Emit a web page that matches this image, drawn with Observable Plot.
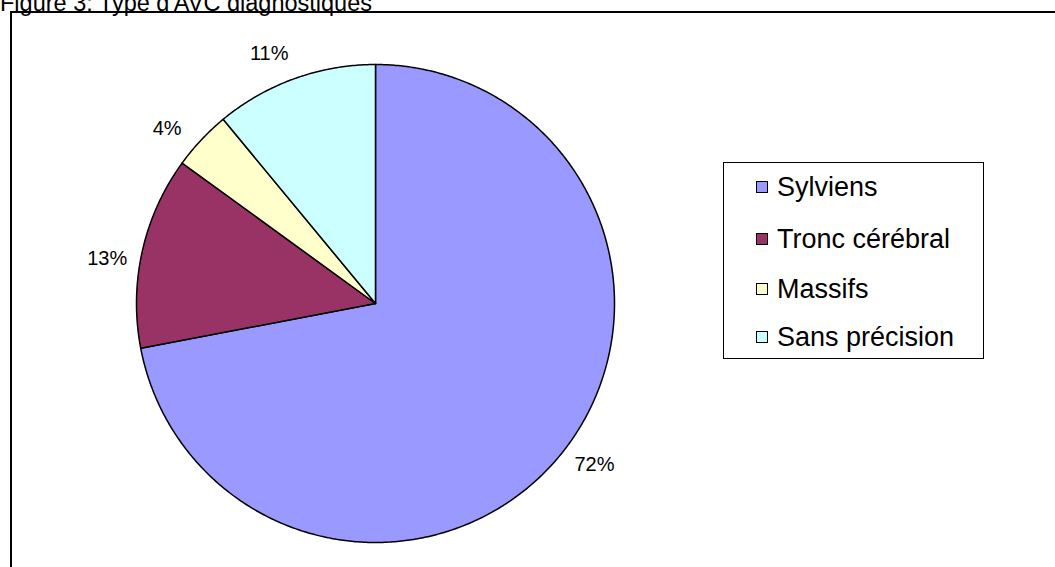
<!DOCTYPE html>
<html>
<head>
<meta charset="utf-8">
<script src="https://cdn.jsdelivr.net/npm/d3@7"></script>
<script src="https://cdn.jsdelivr.net/npm/@observablehq/plot@0.6"></script>
<style>
  html, body { margin: 0; padding: 0; background: #fff; }
  #wrap { position: relative; width: 1055px; height: 567px; overflow: hidden; font-family: "Liberation Sans", Arial, sans-serif; }
  #title { position: absolute; left: 0; top: -8px; font-size: 23.5px; line-height: 23.5px; white-space: nowrap; color: #000; }
  #frame { position: absolute; left: 10px; top: 11px; width: 1200px; height: 700px; border: 2px solid #000; }
  #chart { position: absolute; left: 0; top: 0; }
  #legend { position: absolute; left: 723px; top: 162px; width: 259px; height: 195px; border: 1px solid #000; background: #fff; }
  .item { position: absolute; left: 32px; height: 30px; display: flex; align-items: center; font-size: 27px; color: #000; white-space: nowrap; }
  .sw { width: 10px; height: 10px; border: 1px solid #000; margin-right: 9px; }
</style>
</head>
<body>
<div id="wrap">
  <div id="title"></div>
  <div id="frame"></div>
  <div id="chart"></div>
  <div id="legend"></div>
</div>
<script>
// Stroke types diagnosed (share of cases, %)
const categories = ["Sylviens", "Tronc cérébral", "Massifs", "Sans précision"];
const values = [72, 13, 4, 11];
const colors = ["#9999FF", "#993366", "#FFFFCC", "#CCFFFF"];
const titleText = "Figure 3: Type d'AVC diagnostiques";

document.getElementById("title").textContent = titleText;

const data = categories.map((name, i) => ({name, value: values[i], color: colors[i]}));

// Slice angles, clockwise from twelve o'clock
const arcs = d3.pie().sort(null).value(d => d.value)(data);

// Each slice as a closed outline in unit coordinates (y up)
const step = Math.PI / 360;
const slices = arcs.map(a => {
  const pts = [{x: 0, y: 0}];
  const n = Math.max(2, Math.ceil((a.endAngle - a.startAngle) / step));
  for (let k = 0; k <= n; k++) {
    const t = a.startAngle + (a.endAngle - a.startAngle) * k / n;
    pts.push({x: Math.sin(t), y: Math.cos(t)});
  }
  pts.push({x: 0, y: 0});
  return {name: a.data.name, color: a.data.color, pts};
});

// Percentage labels just outside each slice, nudged slightly counter-clockwise
const labelR = 1.138;
const labelShift = -3.2 * Math.PI / 180;
const labels = arcs.map(a => {
  const m = (a.startAngle + a.endAngle) / 2 + labelShift;
  return {x: labelR * Math.sin(m), y: labelR * Math.cos(m), text: `${a.data.value}%`};
});

const cx = 375, cy = 303, r = 239;
const chart = Plot.plot({
  width: 1055,
  height: 567,
  margin: 0,
  x: {domain: [-1, 1], range: [cx - r, cx + r], axis: null},
  y: {domain: [-1, 1], range: [cy + r, cy - r], axis: null},
  style: {background: "transparent", fontFamily: "'Liberation Sans', Arial, sans-serif"},
  marks: [
    ...slices.map(s => Plot.line(s.pts, {x: "x", y: "y", fill: s.color, stroke: "#000", strokeWidth: 1.5, strokeLinejoin: "round", curve: "linear"})),
    Plot.text(labels, {x: "x", y: "y", text: "text", fontSize: 20, fill: "#000"})
  ]
});
document.getElementById("chart").appendChild(chart);

// Legend
const legend = document.getElementById("legend");
const rowTops = [9, 61, 111, 159];
data.forEach((d, i) => {
  const row = document.createElement("div");
  row.className = "item";
  row.style.top = rowTops[i] + "px";
  const sw = document.createElement("span");
  sw.className = "sw";
  sw.style.background = d.color;
  row.appendChild(sw);
  row.appendChild(document.createTextNode(d.name));
  legend.appendChild(row);
});
</script>
</body>
</html>
